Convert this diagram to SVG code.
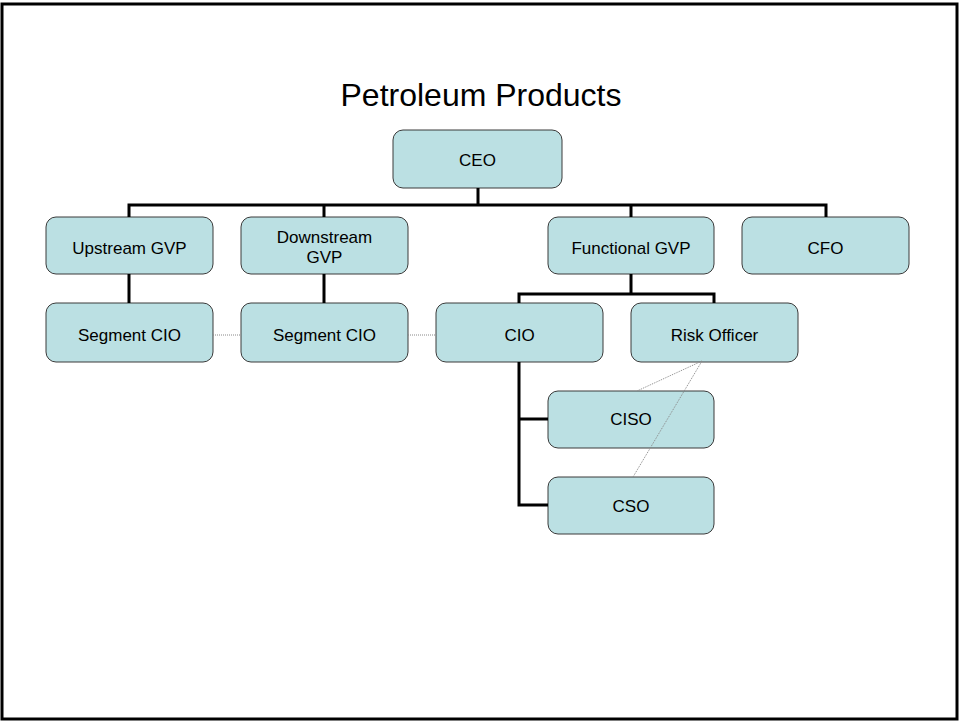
<svg xmlns="http://www.w3.org/2000/svg" width="959" height="721" viewBox="0 0 959 721">
  <style>
    .box { fill: #BBE0E3; stroke: #3a3a3a; stroke-width: 1; }
    .lbl { font-family: "Liberation Sans", Arial, sans-serif; font-size: 17px; fill: #000; text-anchor: middle; }
    .title { font-family: "Liberation Sans", Arial, sans-serif; font-size: 32px; fill: #000; text-anchor: middle; }
    .link { fill: none; stroke: #000; stroke-width: 3; }
    .dot { fill: none; stroke: #888; stroke-width: 1; stroke-dasharray: 1 1; }
  </style>
  <rect x="0" y="0" width="959" height="721" fill="#fff"/>
  <rect x="2" y="4" width="955" height="715" fill="none" stroke="#000" stroke-width="3"/>
  <text class="title" x="481" y="106">Petroleum Products</text>

  <g id="ceo"><rect class="box" x="393" y="130" width="169" height="58" rx="10"/><text class="lbl" x="477.5" y="166">CEO</text></g>
  <g id="upstream-gvp"><rect class="box" x="46" y="217" width="167" height="57" rx="10"/><text class="lbl" x="129.5" y="254">Upstream GVP</text></g>
  <g id="downstream-gvp"><rect class="box" x="241" y="217" width="167" height="57" rx="10"/><text class="lbl" x="324.5" y="243">Downstream</text><text class="lbl" x="324.5" y="263">GVP</text></g>
  <g id="functional-gvp"><rect class="box" x="548" y="217" width="166" height="57" rx="10"/><text class="lbl" x="631" y="254">Functional GVP</text></g>
  <g id="cfo"><rect class="box" x="742" y="217" width="167" height="57" rx="10"/><text class="lbl" x="825.5" y="254">CFO</text></g>
  <g id="segment-cio-up"><rect class="box" x="46" y="303" width="167" height="59" rx="10"/><text class="lbl" x="129.5" y="341">Segment CIO</text></g>
  <g id="segment-cio-down"><rect class="box" x="241" y="303" width="167" height="59" rx="10"/><text class="lbl" x="324.5" y="341">Segment CIO</text></g>
  <g id="cio"><rect class="box" x="436" y="303" width="167" height="59" rx="10"/><text class="lbl" x="519.5" y="341">CIO</text></g>
  <g id="risk-officer"><rect class="box" x="631" y="303" width="167" height="59" rx="10"/><text class="lbl" x="714.5" y="341">Risk Officer</text></g>
  <g id="ciso"><rect class="box" x="548" y="391" width="166" height="57" rx="10"/><text class="lbl" x="631" y="425">CISO</text></g>
  <g id="cso"><rect class="box" x="548" y="477" width="166" height="57" rx="10"/><text class="lbl" x="631" y="512">CSO</text></g>

  <!-- reporting lines: solid for direct, dotted for indirect; drawn over the boxes -->
  <g id="connectors">
    <path class="link" d="M478 188 V205 M129 217 V205 H826 V217 M324 205 V217 M631 205 V217"/>
    <path class="link" d="M129 274 V303 M324 274 V303"/>
    <path class="link" d="M631 274 V294 M519 303 V294 H714 V303"/>
    <path class="link" d="M519 362 V505 H548 M519 419 H548"/>
    <path class="dot" d="M213 335 H241 M408 335 H436"/>
    <path class="dot" d="M702 361 L637 391 M702 361 L633 477"/>
  </g>
</svg>
